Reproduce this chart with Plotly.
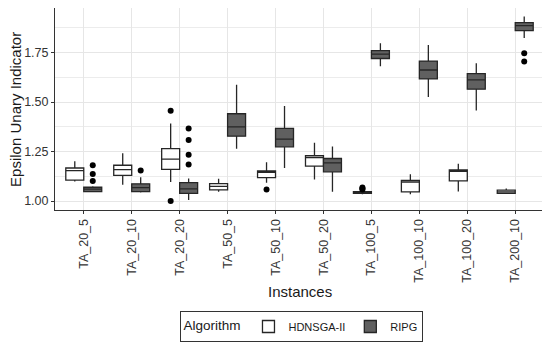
import plotly.graph_objects as go

instances = ["TA_20_5", "TA_20_10", "TA_20_20", "TA_50_5", "TA_50_10",
             "TA_50_20", "TA_100_5", "TA_100_10", "TA_100_20", "TA_200_10"]

# HDNSGA-II box statistics
h_lower = [1.099, 1.082, 1.096, 1.047, 1.093, 1.109, 1.035, 1.034, 1.048, 1.037]
h_q1    = [1.106, 1.130, 1.160, 1.057, 1.118, 1.177, 1.039, 1.047, 1.102, 1.039]
h_med   = [1.154, 1.159, 1.212, 1.074, 1.145, 1.220, 1.044, 1.096, 1.150, 1.047]
h_q3    = [1.167, 1.181, 1.265, 1.088, 1.152, 1.230, 1.048, 1.104, 1.157, 1.055]
h_upper = [1.201, 1.241, 1.392, 1.113, 1.196, 1.294, 1.052, 1.135, 1.188, 1.064]

# RIPG box statistics
r_lower = [1.044, 1.043, 1.006, 1.264, 1.167, 1.047, 1.681, 1.525, 1.457, 1.824]
r_q1    = [1.048, 1.048, 1.039, 1.328, 1.274, 1.148, 1.720, 1.617, 1.565, 1.861]
r_med   = [1.060, 1.068, 1.062, 1.375, 1.313, 1.193, 1.742, 1.662, 1.612, 1.886]
r_q3    = [1.070, 1.087, 1.093, 1.441, 1.367, 1.215, 1.760, 1.707, 1.644, 1.901]
r_upper = [1.075, 1.121, 1.114, 1.588, 1.480, 1.276, 1.797, 1.788, 1.696, 1.932]

# outliers
h_out_x = ["TA_20_20", "TA_20_20", "TA_50_10", "TA_100_5", "TA_100_5", "TA_100_5"]
h_out_y = [1.456, 1.000, 1.059, 1.058, 1.063, 1.068]
r_out_x = ["TA_20_5", "TA_20_5", "TA_20_5", "TA_20_10", "TA_20_20", "TA_20_20",
           "TA_20_20", "TA_20_20", "TA_200_10", "TA_200_10"]
r_out_y = [1.181, 1.137, 1.102, 1.155, 1.367, 1.308, 1.234, 1.185, 1.747, 1.705]

y_ticks = [1.00, 1.25, 1.50, 1.75]
y_tick_labels = ["1.00", "1.25", "1.50", "1.75"]

LINE = "#262626"
FONT = "Liberation Sans, Arial, sans-serif"

fig = go.Figure()
fig.add_trace(go.Box(
    x=instances, q1=h_q1, median=h_med, q3=h_q3,
    lowerfence=h_lower, upperfence=h_upper,
    name="HDNSGA-II", offsetgroup="a", boxpoints=False,
    fillcolor="#ffffff", line=dict(color=LINE, width=1.3), whiskerwidth=0,
))
fig.add_trace(go.Box(
    x=instances, q1=r_q1, median=r_med, q3=r_q3,
    lowerfence=r_lower, upperfence=r_upper,
    name="RIPG", offsetgroup="b", boxpoints=False,
    fillcolor="#606060", line=dict(color=LINE, width=1.3), whiskerwidth=0,
))
fig.add_trace(go.Scatter(
    x=h_out_x, y=h_out_y, mode="markers", offsetgroup="a", showlegend=False,
    marker=dict(color="#000000", size=6), hoverinfo="y",
))
fig.add_trace(go.Scatter(
    x=r_out_x, y=r_out_y, mode="markers", offsetgroup="b", showlegend=False,
    marker=dict(color="#000000", size=6), hoverinfo="y",
))

fig.update_layout(
    template="none",
    width=542, height=349,
    margin=dict(l=47, r=6, t=0, b=147, autoexpand=False),
    paper_bgcolor="white", plot_bgcolor="white",
    boxmode="group", boxgap=0.25, boxgroupgap=0,
    scattermode="group", scattergap=0.25,
    font=dict(family=FONT, color="#333333"),
    showlegend=True,
    legend=dict(
        orientation="h", x=0.505, xanchor="center", y=-0.5, yanchor="top",
        title=dict(text="Algorithm", side="left", font=dict(size=13.5, color="#1a1a1a")),
        font=dict(size=11, color="#1a1a1a"),
        bordercolor="#333333", borderwidth=1, bgcolor="white",
        itemwidth=30,
    ),
    annotations=[
        dict(text="Epsilon Unary Indicator", xref="paper", yref="paper",
             x=-0.082, y=0.5, xanchor="center", yanchor="middle", textangle=-90,
             showarrow=False, font=dict(size=15, color="#1a1a1a")),
        dict(text="Instances", xref="paper", yref="paper",
             x=0.5, y=-0.405, xanchor="center", yanchor="middle",
             showarrow=False, font=dict(size=15, color="#1a1a1a")),
    ],
)
fig.update_xaxes(
    type="category", categoryorder="array", categoryarray=instances,
    range=[-0.6, 9.6], tickangle=-90, tickfont=dict(size=12.5, color="#333333"),
    showgrid=True, gridcolor="#e6e6e6", gridwidth=1,
    ticks="outside", ticklen=3, tickcolor="#333333",
    showline=True, linecolor="#333333", linewidth=1, mirror=True,
    zeroline=False, automargin=False,
)
fig.update_yaxes(
    range=[0.955, 1.975], tickvals=y_ticks, ticktext=y_tick_labels,
    tickfont=dict(size=12.5, color="#333333"),
    showgrid=True, gridcolor="#e6e6e6", gridwidth=1,
    minor=dict(tick0=0.875, dtick=0.25, showgrid=True, gridcolor="#ececec", gridwidth=1),
    ticks="outside", ticklen=3, tickcolor="#333333",
    showline=True, linecolor="#333333", linewidth=1, mirror=True,
    zeroline=False, automargin=False,
)

fig.write_html("out.html")
